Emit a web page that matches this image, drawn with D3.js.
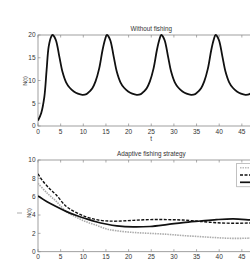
<!DOCTYPE html>
<html lang="en">
<head>
  <meta charset="UTF-8">
  <title>Fishing strategy</title>
  <script src="https://d3js.org/d3.v7.min.js"></script>
  <style>
    html, body { margin: 0; padding: 0; overflow: hidden; background: #fff; }
    text { font-family: "Liberation Sans", Arial, sans-serif; fill: #333; }
  </style>
</head>
<body>
  <script>
    // ---- Data ----
    const xTicks = [0, 5, 10, 15, 20, 25, 30, 35, 40, 45];
    const yTicksTop = [0, 5, 10, 15, 20];
    const yTicksBottom = [0, 2, 4, 6, 8, 10];

    // Without fishing
    const tTop = [0, 0.7, 1.4, 1.9, 2.35, 2.9, 3.2,
      3.9, 4.7, 5.4, 6.2, 7.0, 7.9, 8.8, 9.8, 10.7, 11.4, 12.0, 12.7, 13.5, 14.25, 14.8, 15.2,
      15.9, 16.7, 17.4, 18.2, 19.0, 19.9, 20.8, 21.8, 22.7, 23.4, 24.0, 24.7, 25.5, 26.25, 26.8, 27.2,
      27.9, 28.7, 29.4, 30.2, 31.0, 31.9, 32.8, 33.8, 34.7, 35.4, 36.0, 36.7, 37.5, 38.25, 38.8, 39.2,
      39.9, 40.7, 41.4, 42.2, 43.0, 43.9, 44.8, 45.8, 46.7, 47.4, 48.0, 48.7, 49.5, 50];
    const nTop = [1.2, 2.8, 6.4, 12.3, 17.4, 19.6, 20,
      19.0, 15.3, 11.9, 9.6, 8.4, 7.6, 7.1, 6.85, 7.0, 7.6, 8.3, 9.8, 12.6, 16.7, 19.0, 20,
      19.0, 15.3, 11.9, 9.6, 8.4, 7.6, 7.1, 6.85, 7.0, 7.6, 8.3, 9.8, 12.6, 16.7, 19.0, 20,
      19.0, 15.3, 11.9, 9.6, 8.4, 7.6, 7.1, 6.85, 7.0, 7.6, 8.3, 9.8, 12.6, 16.7, 19.0, 20,
      19.0, 15.3, 11.9, 9.6, 8.4, 7.6, 7.1, 6.85, 7.0, 7.6, 8.3, 9.8, 12.6, 15.0];

    // Adaptive fishing strategy
    const tGray = [0, 2, 4, 6.2, 8.5, 10.6, 12.8, 15, 17.4, 21, 24.7, 28.4, 32, 35.8, 39.4, 43.1, 46.8, 50];
    const nGray = [7.45, 6.4, 5.5, 4.4, 3.75, 3.27, 2.9, 2.5, 2.28, 2.1, 2.0, 1.9, 1.76, 1.64, 1.53, 1.45, 1.48, 1.5];
    const tDash = [0, 1, 2.5, 4, 6.2, 8.5, 10.6, 12.8, 15, 17.4, 21, 24.7, 28.4, 32, 35.8, 39.4, 43.1, 46.8, 50];
    const nDash = [8.5, 7.75, 6.9, 6.2, 4.95, 4.25, 3.8, 3.5, 3.36, 3.33, 3.42, 3.5, 3.5, 3.45, 3.3, 3.16, 3.1, 3.13, 3.15];
    const tSolid = [0, 2, 4, 6.2, 8.5, 10.6, 12.8, 15, 17.4, 21, 24.7, 28.4, 32, 35.8, 39.4, 43.1, 46.8, 50];
    const nSolid = [6.07, 5.45, 4.94, 4.4, 3.95, 3.6, 3.27, 3.02, 2.82, 2.7, 2.75, 2.95, 3.18, 3.35, 3.5, 3.58, 3.47, 3.35];

    (() => {
      "use strict";

      // ---- Layout ----
      const W = 270, H = 263;
      const svg = d3.select("body").append("svg").attr("width", W).attr("height", H);

      const x = d3.scaleLinear().domain([0, 50]).range([38, 264.5]);

      function panel (opt) {
        const y = d3.scaleLinear().domain(opt.yDomain).range([opt.bottom, opt.top]);
        const g = svg.append("g");

        // frame
        g.append("rect")
          .attr("x", x(0)).attr("y", opt.top)
          .attr("width", x(50) - x(0)).attr("height", opt.bottom - opt.top)
          .attr("fill", "none").attr("stroke", "#888").attr("stroke-width", 0.8);

        // ticks, inward, on all sides
        const tk = 2.5;
        opt.xTicks.forEach(t => {
          g.append("line").attr("x1", x(t)).attr("x2", x(t)).attr("y1", opt.bottom).attr("y2", opt.bottom - tk)
            .attr("stroke", "#888").attr("stroke-width", 0.7);
          g.append("line").attr("x1", x(t)).attr("x2", x(t)).attr("y1", opt.top).attr("y2", opt.top + tk)
            .attr("stroke", "#888").attr("stroke-width", 0.7);
          g.append("text").attr("x", x(t)).attr("y", opt.bottom + 7.5)
            .attr("text-anchor", "middle").attr("font-size", 6.5).text(t);
        });
        opt.yTicks.forEach(v => {
          g.append("line").attr("x1", x(0)).attr("x2", x(0) + tk).attr("y1", y(v)).attr("y2", y(v))
            .attr("stroke", "#888").attr("stroke-width", 0.7);
          g.append("text").attr("x", 35.5).attr("y", y(v) + 2.3)
            .attr("text-anchor", "end").attr("font-size", 6.5).text(v);
        });

        g.append("text").attr("x", x(25)).attr("y", opt.top - 4)
          .attr("text-anchor", "middle").attr("font-size", 6.3).text(opt.title);
        g.append("text")
          .attr("transform", `translate(${opt.yLabelX},${opt.yLabelY}) rotate(-90)`)
          .attr("text-anchor", "middle").attr("font-size", 5.8).text("N(t)");

        g.append("clipPath").attr("id", opt.id).append("rect")
          .attr("x", x(0)).attr("y", opt.top - 2).attr("width", x(50) - x(0)).attr("height", opt.bottom - opt.top + 4);
        const plot = g.append("g").attr("clip-path", `url(#${opt.id})`);
        return { y, g, plot };
      }

      // top panel
      const upper = panel({
        id: "clipTop", top: 35, bottom: 126, yDomain: [0, 20],
        xTicks: xTicks, yTicks: yTicksTop, title: "Without fishing",
        yLabelX: 26.5, yLabelY: 81
      });
      const lineTop = d3.line().x(d => x(d[0])).y(d => upper.y(d[1])).curve(d3.curveCatmullRom.alpha(0.5));
      upper.plot.append("path")
        .attr("d", lineTop(d3.zip(tTop, nTop)))
        .attr("fill", "none").attr("stroke", "#111").attr("stroke-width", 1.8);
      upper.g.append("text").attr("x", x(25)).attr("y", 141)
        .attr("text-anchor", "middle").attr("font-size", 6.5).text("t");

      // bottom panel
      const lower = panel({
        id: "clipBot", top: 160, bottom: 251.7, yDomain: [0, 10],
        xTicks: xTicks, yTicks: yTicksBottom, title: "Adaptive fishing strategy",
        yLabelX: 31, yLabelY: 213
      });
      lower.g.append("line").attr("x1", 17).attr("x2", 22).attr("y1", 213).attr("y2", 213)
        .attr("stroke", "#777").attr("stroke-width", 0.6);

      const lineBot = d3.line().x(d => x(d[0])).y(d => lower.y(d[1])).curve(d3.curveCatmullRom.alpha(0.5));
      lower.plot.append("path")
        .attr("d", lineBot(d3.zip(tGray, nGray)))
        .attr("fill", "none").attr("stroke", "#aaa").attr("stroke-width", 1.6).attr("stroke-dasharray", "1.5,1");
      lower.plot.append("path")
        .attr("d", lineBot(d3.zip(tDash, nDash)))
        .attr("fill", "none").attr("stroke", "#111").attr("stroke-width", 1.4).attr("stroke-dasharray", "3,1.5");
      lower.plot.append("path")
        .attr("d", lineBot(d3.zip(tSolid, nSolid)))
        .attr("fill", "none").attr("stroke", "#111").attr("stroke-width", 1.7);

      // legend
      const lg = lower.g.append("g");
      lg.append("rect").attr("x", 236.7).attr("y", 163.3).attr("width", 30).attr("height", 23.5)
        .attr("fill", "#fff").attr("stroke", "#999").attr("stroke-width", 0.6);
      const legendStyles = [
        { y: 167.8, stroke: "#bbb", w: 1.4, dash: "1.5,1" },
        { y: 175, stroke: "#111", w: 1.4, dash: "3,1.5" },
        { y: 182.3, stroke: "#111", w: 1.7, dash: null }
      ];
      legendStyles.forEach(s => {
        lg.append("line").attr("x1", 240).attr("x2", 252).attr("y1", s.y).attr("y2", s.y)
          .attr("stroke", s.stroke).attr("stroke-width", s.w).attr("stroke-dasharray", s.dash);
      });
    })();
  </script>
</body>
</html>
